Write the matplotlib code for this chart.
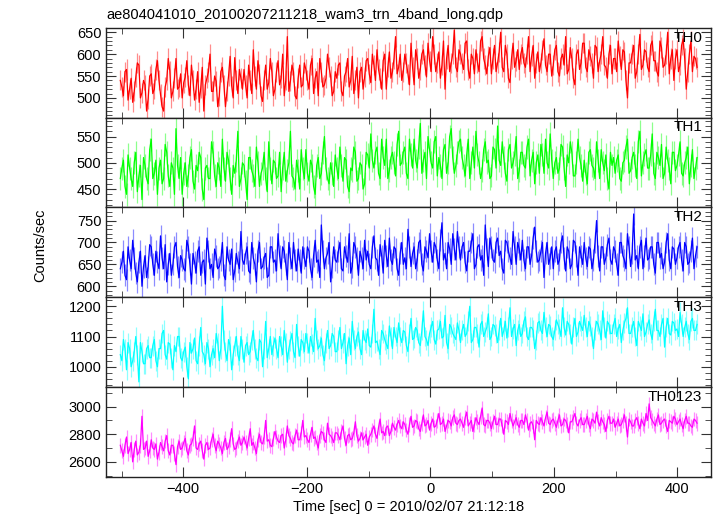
import numpy as np
import matplotlib
matplotlib.use('Agg')
import matplotlib.pyplot as plt
from matplotlib.ticker import MultipleLocator

plt.rcParams['font.family'] = ['Liberation Sans', 'DejaVu Sans']

title = 'ae804041010_20100207211218_wam3_trn_4band_long.qdp'
xlabel = 'Time [sec] 0 = 2010/02/07 21:12:18'
ylabel = 'Counts/sec'
t_start, t_end = -502, 432

names = ['TH0', 'TH1', 'TH2', 'TH3', 'TH0123']
colors = ['#ff0000', '#00ff00', '#0000ff', '#00ffff', '#ff00ff']
errs = [23, 22, 25, 33, 53]

# count rates, two interleaved sets of bins per band
th0 = [540, 505, 565, 520, 490, 548, 575, 512, 530, 498,
       555, 520, 585, 508, 470, 540, 562, 515, 590, 525,
       500, 548, 530, 575, 495, 560, 522, 470, 545, 600,
       515, 538, 505, 570, 480, 550, 528, 592, 510, 545,
       565, 500, 540, 610, 520, 555, 492, 575, 535, 560,
       520, 585, 545, 505, 640, 538, 560, 498, 575, 530,
       565, 520, 590, 545, 505, 560, 530, 600, 550, 515,
       545, 580, 505, 560, 525, 595, 540, 500, 570, 548,
       590, 535, 575, 610, 545, 585, 520, 605, 560, 640,
       570, 540, 600, 555, 625, 530, 590, 565, 610, 548,
       585, 640, 560, 605, 575, 520, 620, 580, 655, 560,
       600, 565, 630, 545, 590, 610, 560, 640, 575, 595,
       555, 620, 580, 650, 560, 600, 535, 625, 585, 565,
       615, 570, 640, 595, 545, 605, 580, 635, 560, 600,
       575, 620, 550, 600, 640, 565, 590, 530, 610, 580,
       625, 560, 595, 545, 615, 585, 640, 570, 600, 555,
       590, 630, 565, 605, 500, 580, 620, 560, 645, 575,
       605, 560, 630, 585, 550, 615, 575, 650, 590, 540,
       610, 575, 635, 520, 600, 560, 590]
th0_b = [525, 560, 495, 545, 515, 580, 500, 540, 470, 550,
         510, 565, 540, 480, 525, 590, 500, 545, 520, 555,
         535, 585, 505, 540, 520, 490, 570, 530, 560, 515,
         550, 480, 560, 530, 515, 595, 500, 540, 565, 520,
         530, 575, 510, 550, 585, 505, 540, 520, 590, 505,
         560, 530, 600, 540, 515, 575, 505, 545, 525, 580,
         540, 575, 510, 560, 590, 525, 545, 570, 505, 560,
         575, 515, 550, 590, 540, 510, 570, 560, 520, 585,
         555, 600, 540, 565, 520, 600, 570, 545, 590, 555,
         600, 560, 580, 530, 570, 610, 545, 600, 575, 625,
         560, 600, 580, 545, 630, 590, 560, 600, 570, 610,
         580, 625, 565, 600, 555, 580, 630, 590, 555, 615,
         590, 560, 605, 570, 620, 545, 590, 570, 610, 600,
         580, 600, 560, 620, 580, 560, 610, 575, 600, 550,
         610, 560, 590, 575, 555, 615, 545, 600, 565, 625,
         570, 610, 580, 620, 560, 600, 575, 545, 620, 590,
         560, 595, 610, 540, 580, 600, 545, 600, 565, 610,
         570, 620, 585, 560, 630, 570, 600, 555, 610, 590,
         560, 620, 590, 560, 630, 595, 570]

th1 = [470, 505, 440, 490, 455, 520, 475, 430, 495, 460,
       545, 480, 440, 505, 470, 520, 455, 490, 565, 470,
       440, 500, 475, 525, 450, 485, 510, 430, 495, 470,
       520, 455, 490, 545, 465, 505, 440, 480, 560, 470,
       495, 430, 510, 475, 530, 455, 490, 470, 540, 460,
       500, 475, 445, 520, 485, 560, 470, 505, 450, 490,
       525, 465, 495, 440, 510, 480, 550, 470, 500, 455,
       490, 530, 465, 505, 445, 485, 520, 470, 495, 460,
       515, 555, 490, 530, 470, 510, 545, 485, 520, 475,
       560, 500, 530, 470, 515, 545, 490, 575, 505, 470,
       525, 490, 550, 510, 470, 535, 500, 565, 480, 520,
       545, 495, 515, 470, 530, 560, 500, 485, 540, 505,
       475, 525, 570, 495, 510, 465, 535, 500, 550, 485,
       520, 490, 545, 505, 460, 515, 535, 480, 500, 555,
       470, 510, 490, 530, 455, 500, 520, 475, 545, 495,
       505, 460, 525, 490, 540, 470, 500, 515, 450, 495,
       480, 515, 465, 505, 545, 485, 520, 470, 560, 500,
       525, 490, 555, 470, 510, 535, 480, 505, 460, 520,
       495, 540, 475, 510, 460, 525, 490]
th1_b = [490, 455, 515, 470, 500, 445, 495, 510, 470, 525,
         470, 505, 490, 460, 535, 475, 500, 440, 495, 510,
         480, 455, 510, 465, 495, 520, 450, 490, 470, 540,
         475, 500, 455, 490, 520, 470, 495, 505, 455, 500,
         465, 510, 485, 455, 500, 480, 520, 445, 490, 505,
         470, 520, 490, 465, 500, 475, 450, 485, 525, 470,
         480, 505, 455, 495, 470, 520, 490, 460, 480, 515,
         470, 495, 510, 455, 490, 530, 465, 500, 450, 520,
         490, 505, 520, 480, 545, 495, 470, 510, 500, 535,
         495, 520, 480, 545, 490, 505, 530, 480, 520, 550,
         500, 540, 475, 495, 525, 480, 550, 510, 495, 540,
         510, 475, 545, 500, 490, 515, 470, 525, 500, 470,
         530, 490, 505, 540, 480, 525, 490, 515, 470, 520,
         495, 530, 475, 520, 500, 480, 515, 545, 490, 505,
         500, 480, 535, 490, 515, 540, 475, 500, 510, 465,
         480, 520, 495, 470, 505, 525, 485, 470, 520, 510,
         505, 470, 500, 530, 480, 510, 495, 540, 475, 515,
         490, 515, 480, 520, 495, 470, 530, 490, 520, 485,
         515, 480, 500, 530, 495, 470, 510]

th2 = [640, 680, 615, 660, 705, 630, 655, 600, 670, 645,
       690, 625, 655, 715, 640, 610, 675, 650, 700, 620,
       660, 635, 690, 605, 655, 680, 625, 660, 710, 640,
       620, 670, 645, 700, 615, 660, 685, 635, 655, 725,
       650, 690, 630, 665, 610, 700, 645, 675, 625, 690,
       660, 720, 640, 680, 615, 665, 700, 635, 660, 690,
       645, 680, 620, 705, 660, 740, 640, 675, 610, 690,
       655, 700, 635, 670, 720, 645, 690, 625, 665, 705,
       680, 640, 715, 660, 695, 630, 670, 710, 650, 685,
       625, 700, 665, 730, 645, 690, 660, 705, 635, 680,
       720, 655, 690, 640, 745, 675, 700, 650, 685, 725,
       660, 700, 635, 680, 720, 650, 695, 670, 740, 645,
       690, 655, 710, 680, 630, 700, 665, 725, 650, 685,
       705, 640, 690, 670, 735, 655, 680, 620, 700, 665,
       640, 690, 660, 715, 635, 680, 650, 700, 625, 670,
       700, 645, 685, 660, 750, 635, 690, 665, 710, 650,
       680, 625, 700, 660, 720, 645, 765, 670, 690, 640,
       710, 665, 690, 630, 700, 675, 655, 720, 640, 685,
       665, 700, 635, 690, 655, 710, 670]
th2_b = [655, 625, 690, 640, 665, 610, 680, 645, 620, 695,
         650, 680, 640, 665, 695, 650, 625, 690, 645, 670,
         640, 705, 650, 675, 630, 690, 655, 605, 680, 650,
         685, 640, 660, 625, 690, 650, 615, 675, 640, 660,
         675, 635, 700, 650, 680, 640, 665, 620, 690, 655,
         635, 670, 690, 650, 700, 640, 660, 685, 630, 665,
         690, 640, 670, 655, 620, 680, 665, 700, 645, 660,
         680, 640, 690, 655, 630, 700, 665, 680, 640, 660,
         650, 690, 665, 625, 670, 705, 645, 660, 690, 640,
         675, 650, 640, 690, 675, 640, 700, 650, 690, 665,
         680, 700, 660, 705, 660, 640, 685, 720, 660, 690,
         690, 655, 680, 700, 640, 690, 660, 625, 685, 710,
         660, 700, 670, 640, 705, 680, 650, 690, 700, 660,
         660, 690, 650, 710, 680, 660, 700, 675, 650, 690,
         680, 650, 700, 665, 690, 640, 705, 670, 690, 650,
         665, 690, 640, 700, 670, 690, 650, 695, 660, 690,
         650, 700, 670, 640, 690, 675, 660, 640, 705, 670,
         660, 690, 650, 700, 665, 640, 700, 660, 690, 650,
         690, 660, 700, 650, 680, 640, 690]

th3 = [1040, 1090, 990, 1060, 1020, 1100, 950, 1050, 1010, 1070,
       1030, 1090, 1000, 1060, 1120, 1025, 1075, 990, 1050, 1100,
       1020, 1065, 960, 1045, 1095, 1010, 1130, 1040, 1080, 1000,
       1060, 1110, 1020, 1200, 1050, 1090, 990, 1070, 1040, 1100,
       1015, 1080, 1050, 1120, 1030, 1090, 1000, 1150, 1060, 1040,
       1095, 1030, 1070, 1120, 1015, 1085, 1050, 1140, 1035, 1080,
       1110, 1045, 1075, 1160, 1060, 1095, 1020, 1120, 1070, 1100,
       1050, 1130, 1080, 1010, 1095, 1150, 1060, 1115, 1040, 1090,
       1125, 1065, 1190, 1085, 1040, 1110, 1075, 1135, 1060, 1100,
       1145, 1080, 1115, 1050, 1160, 1095, 1120, 1070, 1185, 1090,
       1110, 1150, 1075, 1125, 1095, 1170, 1060, 1130, 1100, 1145,
       1080, 1140, 1110, 1200, 1090, 1130, 1065, 1150, 1115, 1175,
       1100, 1135, 1080, 1160, 1120, 1095, 1195, 1125, 1070, 1140,
       1110, 1165, 1090, 1130, 1060, 1145, 1120, 1180, 1100, 1135,
       1090, 1155, 1125, 1195, 1105, 1140, 1075, 1160, 1115, 1135,
       1170, 1100, 1135, 1060, 1150, 1120, 1185, 1095, 1140, 1110,
       1160, 1125, 1080, 1145, 1195, 1110, 1150, 1070, 1135, 1175,
       1115, 1155, 1090, 1190, 1120, 1140, 1065, 1160, 1105, 1145,
       1125, 1180, 1100, 1150, 1090, 1160, 1120]
th3_b = [1020, 1060, 1080, 1000, 1050, 1040, 1080, 1010, 1060, 1030,
         1070, 1020, 1060, 1110, 1040, 1080, 1030, 1070, 1100, 1030,
         1050, 1000, 1080, 1060, 1020, 1070, 1050, 1010, 1060, 1040,
         1030, 1080, 1060, 1090, 1020, 1070, 1040, 1100, 1020, 1060,
         1070, 1040, 1090, 1060, 1020, 1080, 1060, 1030, 1100, 1070,
         1060, 1100, 1040, 1080, 1060, 1110, 1030, 1070, 1090, 1050,
         1080, 1100, 1050, 1090, 1070, 1040, 1080, 1060, 1110, 1050,
         1090, 1060, 1110, 1070, 1040, 1090, 1100, 1060, 1120, 1080,
         1070, 1110, 1080, 1060, 1120, 1090, 1060, 1100, 1130, 1080,
         1100, 1120, 1070, 1110, 1090, 1130, 1080, 1120, 1100, 1070,
         1130, 1090, 1120, 1150, 1100, 1080, 1140, 1110, 1090, 1120,
         1120, 1100, 1150, 1080, 1130, 1110, 1140, 1100, 1130, 1090,
         1140, 1110, 1120, 1100, 1150, 1130, 1100, 1140, 1120, 1100,
         1150, 1100, 1130, 1120, 1090, 1150, 1110, 1130, 1140, 1100,
         1120, 1140, 1100, 1130, 1150, 1110, 1130, 1100, 1150, 1120,
         1130, 1150, 1100, 1120, 1140, 1090, 1130, 1150, 1110, 1140,
         1100, 1140, 1120, 1160, 1110, 1130, 1100, 1150, 1120, 1100,
         1140, 1110, 1150, 1120, 1100, 1160, 1130, 1110, 1150, 1120,
         1100, 1140, 1130, 1110, 1150, 1120, 1140]

th0123 = [2720, 2640, 2780, 2690, 2600, 2750, 2670, 2930, 2700, 2640,
          2760, 2690, 2620, 2740, 2680, 2790, 2650, 2720, 2580, 2750,
          2700, 2770, 2650, 2730, 2860, 2690, 2750, 2620, 2740, 2700,
          2800, 2680, 2730, 2660, 2770, 2710, 2840, 2690, 2750, 2720,
          2780, 2700, 2840, 2740, 2660, 2800, 2730, 2900, 2760, 2710,
          2820, 2750, 2790, 2700, 2860, 2770, 2730, 2830, 2760, 2900,
          2790, 2740, 2850, 2780, 2700, 2820, 2760, 2880, 2790, 2740,
          2810, 2760, 2860, 2720, 2800, 2770, 2890, 2750, 2810, 2780,
          2720, 2800, 2860, 2770, 2910, 2820, 2850, 2790, 2880, 2830,
          2900, 2840, 2870, 2800, 2930, 2860, 2890, 2820, 2940, 2870,
          2830, 2910, 2860, 2950, 2880, 2820, 2900, 2860, 2940, 2870,
          2910, 2850, 2960, 2880, 2820, 2920, 2870, 2990, 2860, 2900,
          2840, 2930, 2870, 2910, 2800, 2890, 2950, 2860, 2920, 2850,
          2900, 2940, 2830, 2890, 2760, 2880, 2920, 2860, 2960, 2870,
          2910, 2850, 2940, 2870, 2900, 2810, 2890, 2950, 2860, 2920,
          2870, 2930, 2840, 2900, 2960, 2860, 2890, 2820, 2930, 2880,
          2850, 2910, 2870, 2940, 2780, 2890, 2860, 2920, 2840, 2880,
          2950, 3020, 2900, 2860, 2940, 2880, 2910, 2820, 2890, 2930,
          2870, 2910, 2840, 2930, 2880, 2850, 2900]
th0123_b = [2680, 2720, 2660, 2740, 2690, 2650, 2720, 2690, 2750, 2680,
            2700, 2730, 2670, 2710, 2750, 2680, 2720, 2660, 2710, 2690,
            2740, 2680, 2720, 2770, 2700, 2730, 2680, 2720, 2690, 2760,
            2720, 2750, 2700, 2740, 2690, 2760, 2730, 2700, 2780, 2740,
            2740, 2770, 2720, 2700, 2760, 2740, 2780, 2750, 2720, 2770,
            2780, 2740, 2800, 2760, 2790, 2740, 2790, 2760, 2810, 2780,
            2760, 2800, 2770, 2740, 2790, 2810, 2740, 2800, 2770, 2810,
            2790, 2820, 2770, 2790, 2760, 2810, 2790, 2770, 2760, 2800,
            2780, 2830, 2800, 2850, 2810, 2790, 2860, 2820, 2850, 2870,
            2860, 2890, 2830, 2870, 2850, 2900, 2840, 2880, 2860, 2900,
            2880, 2850, 2900, 2870, 2910, 2860, 2890, 2920, 2880, 2900,
            2880, 2920, 2860, 2900, 2870, 2890, 2930, 2870, 2900, 2880,
            2890, 2870, 2910, 2860, 2900, 2870, 2900, 2890, 2870, 2900,
            2870, 2900, 2880, 2860, 2900, 2870, 2890, 2920, 2880, 2900,
            2880, 2900, 2860, 2910, 2870, 2890, 2920, 2880, 2900, 2870,
            2900, 2870, 2910, 2880, 2890, 2920, 2870, 2900, 2880, 2910,
            2880, 2860, 2900, 2880, 2910, 2860, 2900, 2880, 2910, 2860,
            2900, 2920, 2880, 2910, 2870, 2900, 2860, 2900, 2880, 2910,
            2890, 2870, 2900, 2880, 2860, 2910, 2880]

series = [(th0, th0_b), (th1, th1_b), (th2, th2_b), (th3, th3_b), (th0123, th0123_b)]
ylims = [(455, 660), (415, 586), (575, 780), (933, 1230), (2492, 3142)]
ymajor = [50, 50, 50, 100, 200]
yminor = [10, 10, 10, 20, 100]

fig = plt.figure(figsize=(7.17, 5.16), dpi=100)
gs = fig.add_gridspec(5, 1, left=0.148, right=0.992, top=0.946, bottom=0.076, hspace=0)

for i, (a, b) in enumerate(series):
    ax = fig.add_subplot(gs[i])
    vals = np.column_stack([a, b]).ravel()
    t = np.linspace(t_start, t_end, len(vals))
    ax.errorbar(t, vals, yerr=errs[i], fmt='none', ecolor=colors[i], elinewidth=0.9, alpha=0.45)
    ax.plot(t, vals, color=colors[i], lw=0.9)
    ax.set_xlim(-525, 455)
    ax.set_ylim(ylims[i])
    ax.xaxis.set_major_locator(MultipleLocator(200))
    ax.xaxis.set_minor_locator(MultipleLocator(100))
    ax.yaxis.set_major_locator(MultipleLocator(ymajor[i]))
    ax.yaxis.set_minor_locator(MultipleLocator(yminor[i]))
    ax.tick_params(which='both', direction='in', top=True, right=True, labelsize=10.5, color='#333333')
    ax.tick_params(which='major', length=7)
    ax.tick_params(which='minor', length=4)
    for s in ax.spines.values():
        s.set_color('#222222')
        s.set_linewidth(1.0)
    ax.text(0.985, 0.97, names[i], transform=ax.transAxes, ha='right', va='top', fontsize=11)
    if i < 4:
        ax.tick_params(labelbottom=False)

fig.text(0.148, 0.963, title, fontsize=10.5, ha='left', va='baseline')
fig.text(0.57, 0.018, xlabel, fontsize=10.5, ha='center', va='center')
fig.text(0.056, 0.525, ylabel, fontsize=10.5, rotation=90, ha='center', va='center')

fig.savefig('out.png', dpi=100)
